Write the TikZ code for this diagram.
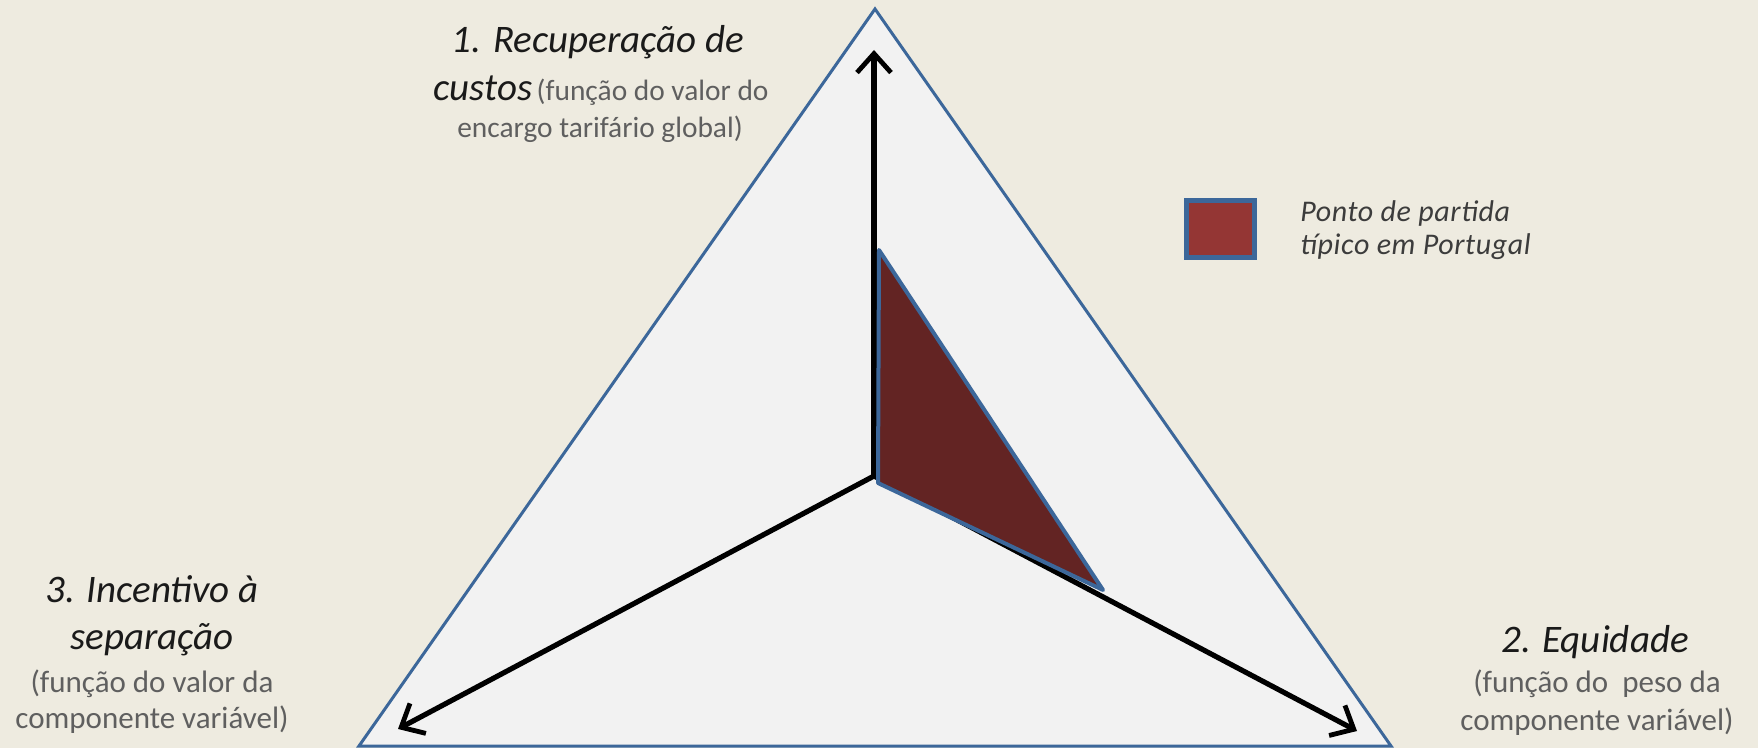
\documentclass[tikz,border=0pt]{standalone}
\usepackage{fontspec}
\setmainfont{Carlito}
\usetikzlibrary{arrows.meta}
\definecolor{bg}{HTML}{EEEBE0}
\definecolor{trifill}{HTML}{F2F2F2}
\definecolor{edge}{HTML}{3C679A}
\definecolor{darkred}{HTML}{632423}
\definecolor{legred}{HTML}{943634}
\definecolor{titletext}{HTML}{1A1A1A}
\definecolor{subtext}{HTML}{5F5F5F}
\tikzset{
  axis/.style={line width=2.6pt, black, -{Straight Barb[length=9.5pt,width=17pt,line width=2.4pt]}},
  bigtxt/.style={anchor=base, inner sep=0pt, text=titletext, font=\fontsize{19.5}{23}\selectfont\itshape},
  smalltxt/.style={anchor=base, inner sep=0pt, text=subtext, font=\fontsize{15.5}{18}\selectfont},
  smalltxtb/.style={anchor=base, inner sep=0pt, text=subtext, font=\fontsize{14.7}{18}\selectfont},
  legtxt/.style={anchor=base west, inner sep=0pt, text=titletext!85, font=\fontsize{15}{18}\selectfont\itshape\addfontfeature{LetterSpace=2}},
}
\begin{document}
\begin{tikzpicture}[x=0.5pt,y=-0.5pt]
\useasboundingbox (0,0) rectangle (1758,748);
\fill[bg] (0,0) rectangle (1758,748);
% main triangle
\coordinate (A) at (875,9);
\coordinate (B) at (1391,746);
\coordinate (C) at (359,746);
\draw[edge, fill=trifill, line width=1.5pt, line join=miter] (A) -- (B) -- (C) -- cycle;
% axes
\coordinate (O) at (874,476);
\coordinate (T1) at (874,50);
\coordinate (T2) at (1357,731);
\coordinate (T3) at (398,729);
\draw[axis] (O) -- (T1);
\draw[axis] (O) -- (T2);
\draw[axis] (O) -- (T3);
% starting point triangle
\coordinate (P1) at (879,250);
\coordinate (P2) at (1103,590);
\coordinate (P3) at (878,483);
\draw[edge, fill=darkred, line width=2pt, line join=round] (P1) -- (P2) -- (P3) -- cycle;
% legend
\node[draw=edge, fill=legred, line width=2.5pt, minimum width=34pt, minimum height=28.5pt, inner sep=0pt] (leg) at (1220,229.5) {};
\node[legtxt] (legl1) at (1300,222) {Ponto de partida};
\node[legtxt] (legl2) at (1300,255) {típico em Portugal};
% label 1
\node[bigtxt] (l1a) at (598,53) {1. Recuperação de};
\node[anchor=base, inner sep=0pt] (l1b) at (601,101) {{\fontsize{19.5}{23}\selectfont\itshape\color{titletext}custos} {\fontsize{14.7}{18}\selectfont\color{subtext}(função do valor do}};
\node[smalltxtb] (l1c) at (600,138) {encargo tarifário global)};
% label 2
\node[bigtxt] (l2a) at (1595,653) {2. Equidade};
\node[smalltxt] (l2b) at (1597,693) {(função do\ \ peso da};
\node[smalltxt] (l2c) at (1597,730) {componente variável)};
% label 3
\node[bigtxt] (l3a) at (152,603) {3. Incentivo à};
\node[bigtxt] (l3b) at (152,650) {separação};
\node[smalltxt] (l3c) at (152,692) {(função do valor da};
\node[smalltxt] (l3d) at (152,728) {componente variável)};
\end{tikzpicture}
\end{document}
